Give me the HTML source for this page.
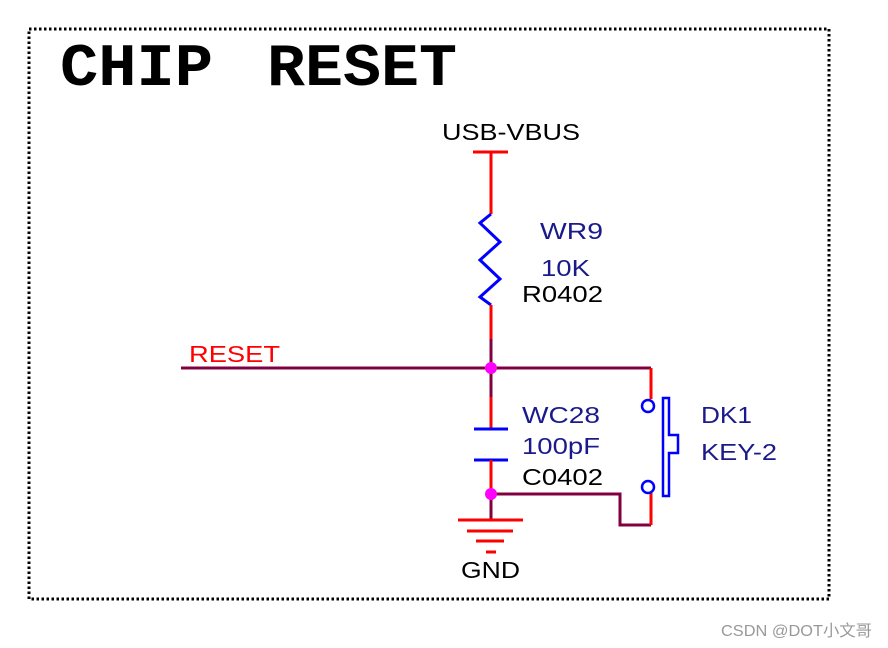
<!DOCTYPE html>
<html><head><meta charset="utf-8"><style>
html,body{margin:0;padding:0;background:#fff;width:888px;height:648px;overflow:hidden}
svg{display:block}
text{font-family:"Liberation Sans",sans-serif}
text.t{font-family:"Liberation Mono",monospace;font-weight:bold}
</style></head><body>
<svg width="888" height="648" viewBox="0 0 888 648" xmlns="http://www.w3.org/2000/svg">
<rect x="29" y="29" width="800" height="570" fill="none" stroke="#000" stroke-width="3" stroke-dasharray="2.5 2.5"/>
<text class="t" x="60" y="85" font-size="60" fill="#000" textLength="153" lengthAdjust="spacingAndGlyphs">CHIP</text>
<text class="t" x="267" y="85" font-size="60" fill="#000" textLength="190" lengthAdjust="spacingAndGlyphs">RESET</text>
<text x="442" y="140" font-size="23" textLength="138" lengthAdjust="spacingAndGlyphs" fill="#000">USB-VBUS</text>
<g stroke-width="3" fill="none">
<line x1="473" y1="152" x2="508" y2="152" stroke="#f00"/>
<line x1="491" y1="152" x2="491" y2="214" stroke="#f00"/>
<polyline points="491,214 480,223 500,242 480,260 500,279 480,297 491,305" stroke="#00f"/>
<line x1="491" y1="305" x2="491" y2="339" stroke="#f00"/>
<line x1="491" y1="339" x2="491" y2="397" stroke="#800040"/>
<line x1="491" y1="397" x2="491" y2="429" stroke="#f00"/>
<line x1="474" y1="429" x2="508" y2="429" stroke="#00f"/>
<line x1="474" y1="460" x2="508" y2="460" stroke="#00f"/>
<line x1="491" y1="460" x2="491" y2="494" stroke="#f00"/>
<line x1="491" y1="494" x2="491" y2="520" stroke="#800040"/>
<line x1="458" y1="520" x2="523" y2="520" stroke="#f00"/>
<line x1="467" y1="531" x2="513" y2="531" stroke="#f00"/>
<line x1="476" y1="541" x2="504" y2="541" stroke="#f00"/>
<line x1="486" y1="552" x2="496" y2="552" stroke="#f00"/>
<polyline points="181,368 651,368" stroke="#800040"/>
<line x1="651" y1="368" x2="651" y2="399" stroke="#f00"/>
<polyline points="491,494 620,494 620,525 651,525" stroke="#800040"/>
<line x1="651" y1="493" x2="651" y2="525" stroke="#f00"/>
<circle cx="648" cy="406" r="6" stroke="#00f" stroke-width="2.5"/>
<circle cx="648" cy="487" r="6" stroke="#00f" stroke-width="2.5"/>
<polygon points="663,398 669,398 669,435 678,435 678,453 669,453 669,496 663,496" stroke="#00f" stroke-width="2.5"/>
</g>
<circle cx="491" cy="368" r="6" fill="#f0f"/>
<circle cx="491" cy="494" r="6" fill="#f0f"/>
<g font-size="23">
<text x="540" y="239" fill="#1a1a8c" textLength="63" lengthAdjust="spacingAndGlyphs">WR9</text>
<text x="541" y="276" fill="#1a1a8c" textLength="49" lengthAdjust="spacingAndGlyphs">10K</text>
<text x="522" y="302" fill="#000" textLength="81" lengthAdjust="spacingAndGlyphs">R0402</text>
<text x="189" y="362" fill="#f00" textLength="91" lengthAdjust="spacingAndGlyphs">RESET</text>
<text x="522" y="423" fill="#1a1a8c" textLength="78" lengthAdjust="spacingAndGlyphs">WC28</text>
<text x="522" y="454" fill="#1a1a8c" textLength="78" lengthAdjust="spacingAndGlyphs">100pF</text>
<text x="522" y="485" fill="#000" textLength="81" lengthAdjust="spacingAndGlyphs">C0402</text>
<text x="701" y="423" fill="#1a1a8c" textLength="51" lengthAdjust="spacingAndGlyphs">DK1</text>
<text x="701" y="460" fill="#1a1a8c" textLength="76" lengthAdjust="spacingAndGlyphs">KEY-2</text>
<text x="461" y="578" fill="#000" textLength="59" lengthAdjust="spacingAndGlyphs">GND</text>
</g>
<text x="721" y="636" font-size="16" fill="#999" textLength="151" lengthAdjust="spacingAndGlyphs" style="font-family:'Liberation Sans','Noto Sans CJK SC',sans-serif">CSDN @DOT小文哥</text>
</svg>
</body></html>
